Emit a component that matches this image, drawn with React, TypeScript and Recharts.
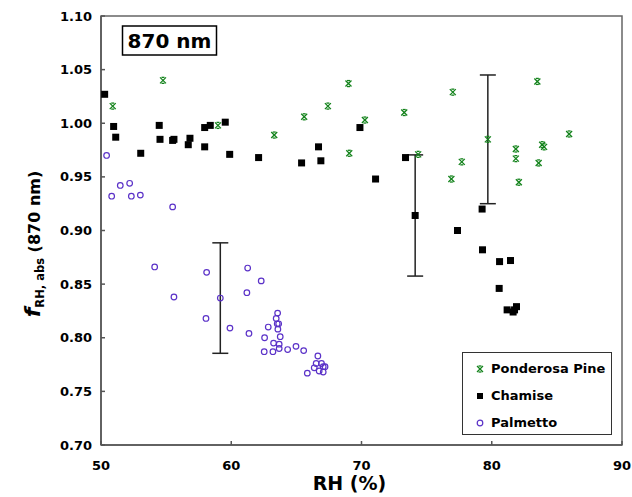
import React from 'react';
import { ScatterChart, Scatter, XAxis, YAxis, ReferenceArea, ErrorBar, Legend } from 'recharts';

const ponderosaRH = [50.9, 54.76, 58.98, 63.3, 65.6, 67.42, 69.0, 69.06, 70.26, 73.28, 74.35, 77.01, 77.7, 76.9, 79.7, 81.85, 81.85, 82.08, 83.5, 83.6, 83.87, 84.02, 85.94];
const ponderosaF = [1.016, 1.04, 0.998, 0.989, 1.006, 1.016, 1.037, 0.972, 1.003, 1.01, 0.971, 1.029, 0.964, 0.948, 0.985, 0.976, 0.967, 0.945, 1.039, 0.963, 0.98, 0.978, 0.99];

const chamiseRH = [50.28, 50.97, 51.13, 53.05, 54.47, 54.53, 55.5, 55.6, 56.7, 56.83, 57.96, 57.96, 58.39, 59.54, 59.88, 62.1, 65.4, 66.7, 66.88, 69.88, 71.08, 73.38, 74.12, 77.37, 79.26, 79.29, 80.6, 81.44, 80.57, 81.18, 81.64, 81.9, 81.75];
const chamiseF = [1.027, 0.997, 0.987, 0.972, 0.998, 0.985, 0.984, 0.985, 0.98, 0.986, 0.996, 0.978, 0.998, 1.001, 0.971, 0.968, 0.963, 0.978, 0.965, 0.996, 0.948, 0.968, 0.914, 0.9, 0.92, 0.882, 0.871, 0.872, 0.846, 0.826, 0.824, 0.829, 0.826];

const palmettoRH = [50.43, 50.82, 51.48, 52.2, 52.33, 53.02, 55.5, 54.12, 55.6, 58.11, 58.06, 59.16, 59.9, 61.26, 61.2, 62.3, 61.36, 62.84, 62.56, 62.53, 63.2, 63.25, 63.56, 63.45, 63.53, 63.64, 63.58, 63.76, 63.68, 63.68, 64.33, 64.97, 65.56, 65.84, 66.65, 66.52, 66.37, 66.75, 66.93, 67.06, 67.2, 67.06];
const palmettoF = [0.97, 0.932, 0.942, 0.944, 0.932, 0.933, 0.922, 0.866, 0.838, 0.861, 0.818, 0.837, 0.809, 0.865, 0.842, 0.853, 0.804, 0.81, 0.8, 0.787, 0.787, 0.795, 0.823, 0.818, 0.813, 0.813, 0.808, 0.801, 0.794, 0.79, 0.789, 0.792, 0.788, 0.767, 0.783, 0.776, 0.772, 0.769, 0.776, 0.773, 0.773, 0.768];

// one averaged point per fuel with its standard deviation
const errRH = [59.16, 74.12, 79.7];
const errF = [0.837, 0.914, 0.985];
const errSize = [0.0515, 0.0565, 0.06];

const xTicks = [50, 60, 70, 80, 90];
const yTicks = [0.7, 0.75, 0.8, 0.85, 0.9, 0.95, 1.0, 1.05, 1.1];

const GREEN = '#12821a';
const PURPLE = '#5b32c8';
const FONT = "Verdana, 'DejaVu Sans', sans-serif";

const toPoints = (xs: number[], ys: number[]) => xs.map((x, i) => ({ rh: x, f: ys[i] }));
const ponderosa = toPoints(ponderosaRH, ponderosaF);
const chamise = toPoints(chamiseRH, chamiseF);
const palmetto = toPoints(palmettoRH, palmettoF);
const errPoints = errRH.map((x, i) => ({ rh: x, f: errF[i], err: errSize[i] }));

const StarMark = ({ cx, cy }: any) => {
  const s = 3;
  return (
    <g stroke={GREEN} strokeWidth={1.3}>
      <line x1={cx - s} y1={cy - s} x2={cx + s} y2={cy + s} />
      <line x1={cx - s} y1={cy + s} x2={cx + s} y2={cy - s} />
      <line x1={cx - 1.5} y1={cy - s} x2={cx + 1.5} y2={cy - s} />
      <line x1={cx - 1.5} y1={cy + s} x2={cx + 1.5} y2={cy + s} />
    </g>
  );
};

const SquareMark = ({ cx, cy }: any) => <rect x={cx - 3.5} y={cy - 3.5} width={7} height={7} fill="#000" />;

const CircleMark = ({ cx, cy }: any) => <circle cx={cx} cy={cy} r={2.8} fill="none" stroke={PURPLE} strokeWidth={1.2} />;

const LegendSquare = ({ cx, cy }: any) => <rect x={cx - 3} y={cy - 3} width={6} height={6} fill="#000" />;

const legendItems = [
  { name: 'Ponderosa Pine', Mark: StarMark },
  { name: 'Chamise', Mark: LegendSquare },
  { name: 'Palmetto', Mark: CircleMark },
];

const LegendBox = () => (
  <div style={{ border: '1.5px solid #333', background: '#fff', width: 150, height: 83, boxSizing: 'border-box', paddingTop: 2 }}>
    {legendItems.map(({ name, Mark }) => (
      <div key={name} style={{ display: 'flex', alignItems: 'center', height: 27, fontFamily: FONT, fontWeight: 'bold', fontSize: 13 }}>
        <svg width={26} height={14}>
          <Mark cx={17} cy={7} />
        </svg>
        <span style={{ marginLeft: 2 }}>{name}</span>
      </div>
    ))}
  </div>
);

const tickStyle = { fontFamily: FONT, fontWeight: 'bold', fontSize: 13, fill: '#000' };

export default function App() {
  return (
    <div style={{ position: 'absolute', left: 0, top: 0, width: 632, height: 497, background: '#fff' }}>
      <ScatterChart width={632} height={497} margin={{ top: 16, right: 10, bottom: 22, left: 41 }}>
        <XAxis
          type="number"
          dataKey="rh"
          domain={[50, 90]}
          ticks={xTicks}
          interval={0}
          allowDataOverflow
          height={30}
          tickSize={-4}
          tickMargin={20}
          tick={tickStyle}
          stroke="#555"
          strokeWidth={1.5}
          label={{ value: 'RH (%)', position: 'bottom', offset: 2, dx: -12, style: { fontFamily: FONT, fontWeight: 'bold', fontSize: 19, fill: '#000' } }}
        />
        <YAxis
          type="number"
          dataKey="f"
          domain={[0.7, 1.1]}
          ticks={yTicks}
          interval={0}
          allowDataOverflow
          width={60}
          tickSize={-4}
          tickMargin={13}
          tick={tickStyle}
          tickFormatter={(v: number) => v.toFixed(2)}
          stroke="#555"
          strokeWidth={1.5}
        />
        <ReferenceArea x1={50} x2={90} y1={0.7} y2={1.1} fill="none" stroke="#666" strokeWidth={1.5} ifOverflow="visible" />
        <Scatter data={errPoints} shape={() => <g />} isAnimationActive={false} legendType="none">
          <ErrorBar dataKey="err" direction="y" width={8} stroke="#222" strokeWidth={1.5} />
        </Scatter>
        <Scatter name="Ponderosa Pine" data={ponderosa} shape={StarMark} isAnimationActive={false} />
        <Scatter name="Chamise" data={chamise} shape={SquareMark} isAnimationActive={false} />
        <Scatter name="Palmetto" data={palmetto} shape={CircleMark} isAnimationActive={false} />
        <Legend
          layout="vertical"
          align="center"
          verticalAlign="middle"
          content={() => <LegendBox />}
          wrapperStyle={{ left: 462, top: 352, width: 150, height: 83 }}
        />
      </ScatterChart>
      <svg width={632} height={497} style={{ position: 'absolute', left: 0, top: 0, pointerEvents: 'none' }}>
        <rect x={122.5} y={26} width={94} height={29} fill="#fff" stroke="#000" strokeWidth={1.5} />
        <text x={169.5} y={48} textAnchor="middle" fontFamily={FONT} fontWeight="bold" fontSize={20}>870 nm</text>
        <text transform="translate(40,244) rotate(-90)" textAnchor="middle" fontFamily={FONT} fontWeight="bold">
          <tspan fontSize={22} fontStyle="italic">f</tspan>
          <tspan fontSize={11.5} dy={4}>RH, abs</tspan>
          <tspan fontSize={16} dy={-4}> (870 nm)</tspan>
        </text>
      </svg>
    </div>
  );
}
